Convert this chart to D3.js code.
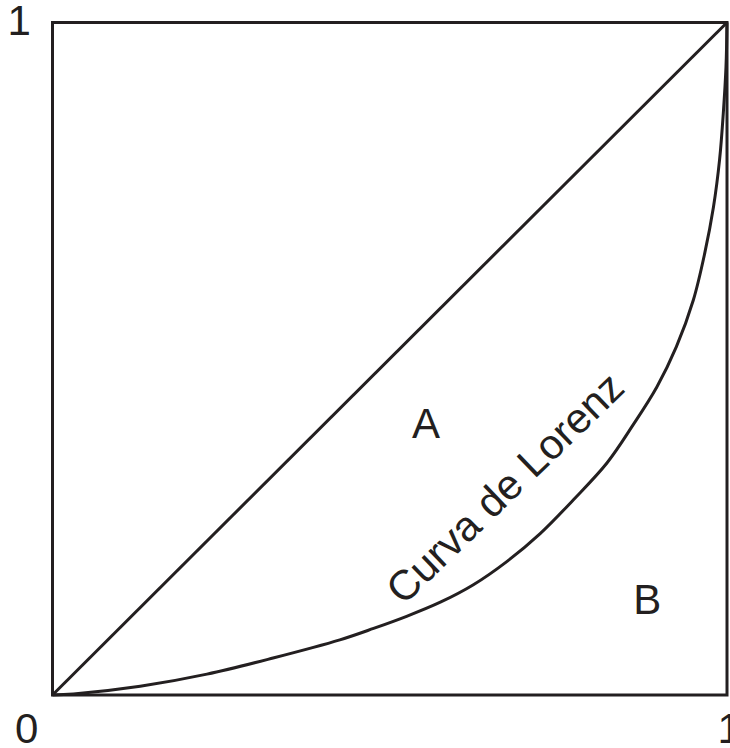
<!DOCTYPE html>
<html>
<head>
<meta charset="utf-8">
<script src="https://cdn.jsdelivr.net/npm/d3@7"></script>
<style>
  html, body { margin: 0; padding: 0; background: #fff; }
  text { font-family: "Liberation Sans", Arial, sans-serif; fill: #231f20; }
</style>
</head>
<body>
<script>
const width = 730;
const height = 748;

// Lorenz curve (share of population -> share of income)
const lorenzX = [0, 0.031, 0.13, 0.229, 0.327, 0.426, 0.476, 0.525, 0.575, 0.624, 0.673, 0.723, 0.772, 0.822, 0.861, 0.896, 0.925, 0.95, 0.967, 0.98, 0.989, 0.9945, 0.9985, 1];
const lorenzY = [0, 0.0015, 0.013, 0.031, 0.055, 0.082, 0.099, 0.117, 0.138, 0.164, 0.198, 0.24, 0.29, 0.345, 0.402, 0.458, 0.518, 0.587, 0.657, 0.726, 0.796, 0.865, 0.934, 1];
const equality = [0, 1];
const tickLabels = ['0', '1'];
const areaLabels = ['A', 'B'];
const curveLabel = 'Curva de Lorenz';

const ink = '#231f20';

const svg = d3.select('body').append('svg').attr('width', width).attr('height', height);

const x = d3.scaleLinear().domain([0, 1]).range([52.5, 727]);
const y = d3.scaleLinear().domain([0, 1]).range([695, 22.5]);

// frame
svg.append('rect')
  .attr('x', x(0))
  .attr('y', y(1))
  .attr('width', x(1) - x(0))
  .attr('height', y(0) - y(1))
  .attr('fill', 'none')
  .attr('stroke', ink)
  .attr('stroke-width', 3);

// line of equality
svg.append('line')
  .attr('x1', x(equality[0])).attr('y1', y(equality[0]))
  .attr('x2', x(equality[1])).attr('y2', y(equality[1]))
  .attr('stroke', ink)
  .attr('stroke-width', 3);

// Lorenz curve
const line = d3.line()
  .x(i => x(lorenzX[i]))
  .y(i => y(lorenzY[i]))
  .curve(d3.curveCatmullRom.alpha(0.5));

svg.append('path')
  .attr('d', line(d3.range(lorenzX.length)))
  .attr('fill', 'none')
  .attr('stroke', ink)
  .attr('stroke-width', 3);

// axis end labels
svg.append('text').attr('x', x(0) - 45).attr('y', y(1) + 12.5).attr('font-size', 42).text(tickLabels[1]);
svg.append('text').attr('x', x(0) - 37.5).attr('y', y(0) + 48).attr('font-size', 42).text(tickLabels[0]);
svg.append('text').attr('x', x(1) - 9.5).attr('y', y(0) + 48).attr('font-size', 42).text(tickLabels[1]);

// area labels
svg.append('text').attr('x', x(0.533)).attr('y', y(0.382)).attr('font-size', 42).text(areaLabels[0]);
svg.append('text').attr('x', x(0.861)).attr('y', y(0.12)).attr('font-size', 42).text(areaLabels[1]);

// curve label
svg.append('text')
  .attr('transform', `translate(${x(0.52)},${y(0.132)}) rotate(-44)`)
  .attr('font-size', 42)
  .text(curveLabel);
</script>
</body>
</html>
